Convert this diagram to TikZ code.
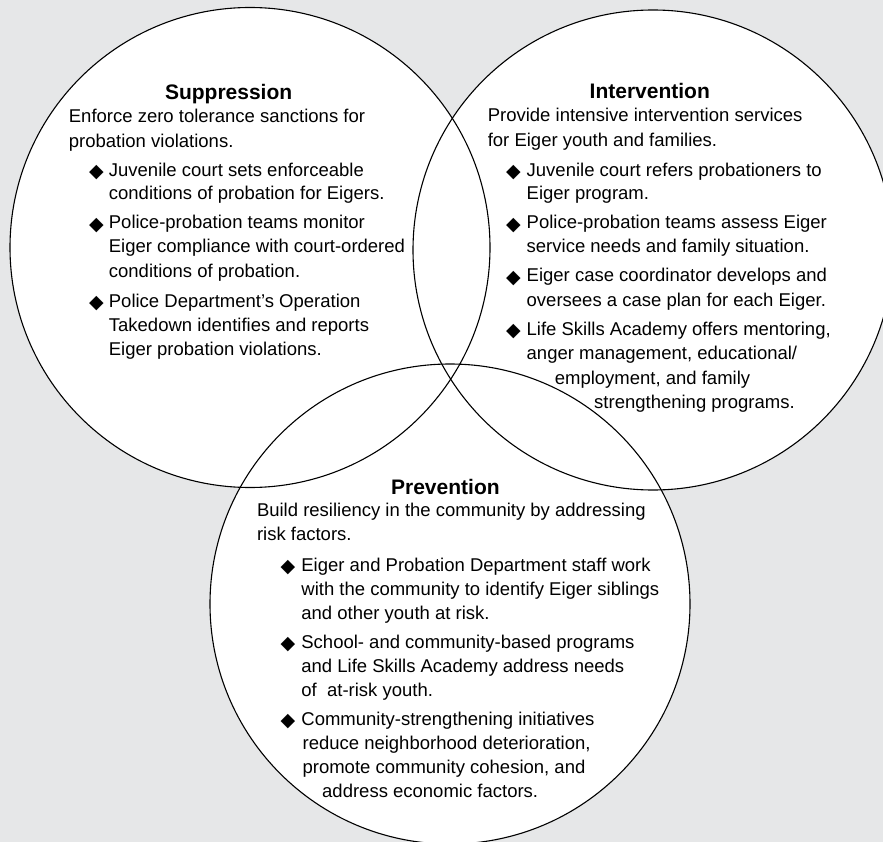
\documentclass[tikz,border=0pt]{standalone}
\usepackage{fontspec}
\setmainfont{Liberation Sans}
\newfontfamily\symfont{DejaVu Sans}
\definecolor{bggray}{RGB}{230,231,232}
\begin{document}
\begin{tikzpicture}[x=1pt,y=-1pt,
  txt/.style={anchor=base west, inner sep=0pt, font=\fontsize{18.5}{22}\selectfont},
  ttl/.style={anchor=base, inner sep=0pt, font=\fontsize{21}{25}\selectfont\bfseries},
  bul/.style={anchor=base west, inner sep=0pt, yshift=-1.5pt, font=\symfont\fontsize{19}{20}\selectfont},
  ring/.style={draw=black, line width=1.1pt}]
\useasboundingbox (0,0) rectangle (883,842);
\fill[bggray] (0,0) rectangle (883,842);
\coordinate (c1) at (250,247.5);
\coordinate (c2) at (653,250);
\coordinate (c3) at (450,604);
\fill[white] (c1) circle[radius=240pt];
\fill[white] (c2) circle[radius=240pt];
\fill[white] (c3) circle[radius=240pt];
\draw[ring] (c1) circle[radius=240pt];
\draw[ring] (c2) circle[radius=240pt];
\draw[ring] (c3) circle[radius=240pt];
% titles
\node[ttl] (t1) at (228.6,99.4) {Suppression};
\node[ttl] (t2) at (649.8,98.3) {Intervention};
\node[ttl] (t3) at (445.4,494) {Prevention};
% Suppression
\foreach \t/\x/\y [count=\i] in {
 {Enforce zero tolerance sanctions for}/68.7/123,
 {probation violations.}/68.7/147.2,
 {Juvenile court sets enforceable}/108.7/176.2,
 {conditions of probation for Eigers.}/108.7/199.8,
 {Police-probation teams monitor}/108.7/228.8,
 {Eiger compliance with court-ordered}/108.7/253,
 {conditions of probation.}/108.7/277.1,
 {Police Department’s Operation}/108.7/307.2,
 {Takedown identifies and reports}/108.7/331.4,
 {Eiger probation violations.}/108.7/355.5}
 \node[txt] (s\i) at (\x,\y) {\t};
\foreach \y [count=\i] in {176.2,228.8,307.2}
 \node[bul] (sb\i) at (89,\y) {◆};
% Intervention
\foreach \t/\x/\y [count=\i] in {
 {Provide intensive intervention services}/487.6/121.9,
 {for Eiger youth and families.}/487.6/146.1,
 {Juvenile court refers probationers to}/526.5/176.2,
 {Eiger program.}/526.5/199.8,
 {Police-probation teams assess Eiger}/526.5/228.8,
 {service needs and family situation.}/526.5/252.9,
 {Eiger case coordinator develops and}/526.5/281.9,
 {oversees a case plan for each Eiger.}/526.5/306.1,
 {Life Skills Academy offers mentoring,}/526.5/335.1,
 {anger management, educational/}/526.5/359.8,
 {employment, and family}/554.6/384,
 {strengthening programs.}/594/408.2}
 \node[txt] (i\i) at (\x,\y) {\t};
\foreach \y [count=\i] in {176.2,228.8,281.9,335.1}
 \node[bul] (ib\i) at (506,\y) {◆};
% Prevention
\foreach \t/\x/\y [count=\i] in {
 {Build resiliency in the community by addressing}/256.8/516.6,
 {risk factors.}/256.8/540.8,
 {Eiger and Probation Department staff work}/301.2/571.4,
 {with the community to identify Eiger siblings}/301.2/595.6,
 {and other youth at risk.}/301.2/619.2,
 {School- and community-based programs}/301.2/648.2,
 {and Life Skills Academy address needs}/301.2/672.4,
 {of~ at-risk youth.}/301.2/696,
 {Community-strengthening initiatives}/301.2/725,
 {reduce neighborhood deterioration,}/302.4/749.7,
 {promote community cohesion, and}/302.4/773.4,
 {address economic factors.}/322/797.5}
 \node[txt] (p\i) at (\x,\y) {\t};
\foreach \y [count=\i] in {571.4,648.2,725}
 \node[bul] (pb\i) at (280.5,\y) {◆};
\end{tikzpicture}
\end{document}
